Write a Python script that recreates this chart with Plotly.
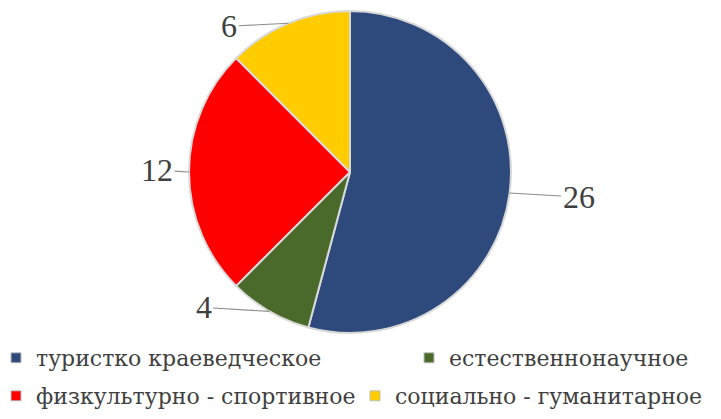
import math
import plotly.graph_objects as go

labels = ["туристко краеведческое", "естественнонаучное",
          "физкультурно - спортивное", "социально - гуманитарное"]
values = [26, 4, 12, 6]
colors = ["#2E4A7D", "#4A6A2C", "#FF0000", "#FFCC00"]

# the page body has an 8px margin, so the figure is drawn 8px in from the corner
PAGE = 8
W, H = 721 - PAGE, 419 - PAGE
cx, cy, R = 350 - PAGE, 172 - PAGE, 161
NUMFONT = "Liberation Serif, Times New Roman, serif"
LEGFONT = "DejaVu Serif, serif"

fig = go.Figure(go.Pie(
    labels=labels, values=values, sort=False, direction="clockwise", rotation=0,
    marker=dict(colors=colors, line=dict(color="#D9D9D9", width=2)),
    textinfo="none", hoverinfo="label+value", showlegend=False,
    domain=dict(x=[(cx - R) / W, (cx + R) / W], y=[(H - cy - R) / H, (H - cy + R) / H]),
))

# legend keys for the slices (one small legend per key so they flow like the original)
legend_names = ["legend", "legend2", "legend3", "legend4"]
for lab, col, lg in zip(labels, colors, legend_names):
    fig.add_trace(go.Scatter(x=[None], y=[None], mode="markers", name=lab, legend=lg,
                             marker=dict(symbol="square", size=10, color=col,
                                         line=dict(color="#BFBFBF", width=1)),
                             hoverinfo="skip", showlegend=True))

# label offsets (px) of each value label relative to its slice edge point
offsets = [(69, 4), (-66, -4), (-32, -2), (-59, 3)]
total = sum(values)
cum = 0
for v, (ax, ay) in zip(values, offsets):
    mid = (cum + v / 2) / total * 2 * math.pi
    cum += v
    px = cx + R * math.sin(mid)
    py = cy - R * math.cos(mid)
    fig.add_annotation(x=px / W, y=1 - py / H, xref="paper", yref="paper",
                       text=str(v), showarrow=True, arrowhead=0, arrowwidth=1.2,
                       arrowcolor="#8C8C8C", ax=ax, ay=ay, standoff=0,
                       font=dict(family=NUMFONT, size=32, color="#404040"))

legfont = dict(family=LEGFONT, size=22, color="#404040")
leg_pos = [(-12, 329), (401, 329), (-12, 367), (347, 367)]
leg_layout = {}
for lg, (lx, ly) in zip(legend_names, leg_pos):
    leg_layout[lg] = dict(orientation="h", x=lx / W, xanchor="left", y=1 - ly / H,
                          yanchor="top", font=legfont, bgcolor="rgba(0,0,0,0)")

fig.update_layout(
    width=W, height=H, margin=dict(l=0, r=0, t=0, b=0, autoexpand=False),
    paper_bgcolor="white", plot_bgcolor="white",
    font=dict(family=LEGFONT, size=22, color="#404040"),
    xaxis=dict(visible=False), yaxis=dict(visible=False),
    showlegend=True,
    **leg_layout,
)
fig.write_html("out.html")
